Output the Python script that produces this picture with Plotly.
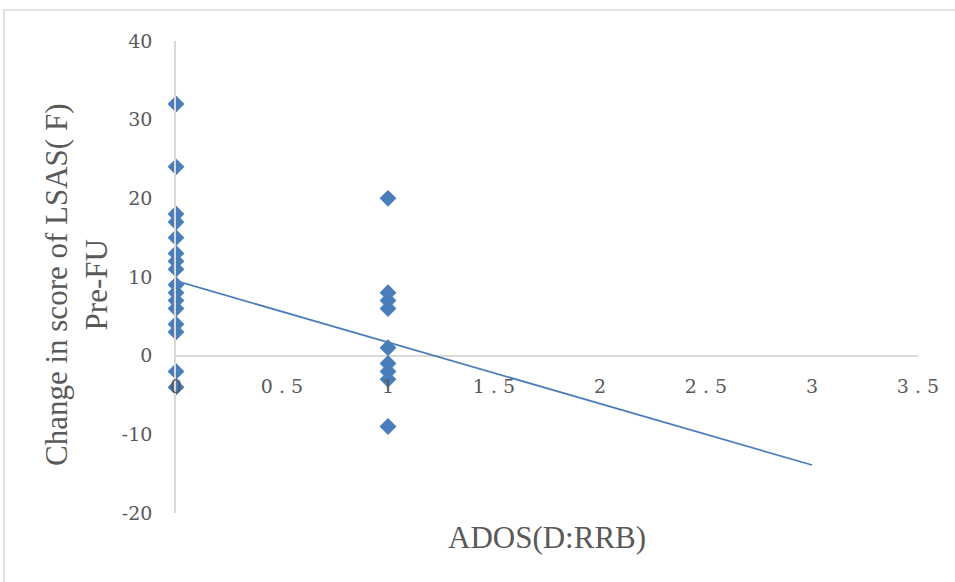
import plotly.graph_objects as go

# Data
ados_x0 = [0] * 16
lsas_x0 = [32, 24, 18, 17, 15, 13, 12, 11, 9, 8, 7, 6, 4, 3, -2, -4]
ados_x1 = [1] * 9
lsas_x1 = [20, 8, 7, 6, 1, -1, -2, -3, -9]

ados = ados_x0 + ados_x1
lsas = lsas_x0 + lsas_x1

# Linear trendline endpoints as drawn in the reference
trend_x = [0, 3]
trend_y = [9.5, -13.9]

x_tickvals = [0, 0.5, 1, 1.5, 2, 2.5, 3, 3.5]
x_ticktext = ["0", "0 . 5", "1", "1 . 5", "2", "2 . 5", "3", "3 . 5"]
y_tickvals = [-20, -10, 0, 10, 20, 30, 40]
y_ticktext = ["-20", "-10", "0", "10", "20", "30", "40"]

BLUE = "#4A7EBB"
TEXT = "#595959"
GRID = "#D9D9D9"
TICKFONT = "'DejaVu Serif', 'Liberation Serif', serif"
TITLEFONT = "'Liberation Serif', 'DejaVu Serif', serif"

fig = go.Figure()
fig.add_trace(go.Scatter(
    x=ados, y=lsas, mode="markers",
    marker=dict(symbol="diamond", size=13, color=BLUE, line=dict(width=0)),
    cliponaxis=False, showlegend=False,
))
fig.add_trace(go.Scatter(
    x=trend_x, y=trend_y, mode="lines",
    line=dict(color=BLUE, width=1.75),
    cliponaxis=False, showlegend=False,
))

fig.update_layout(
    width=955, height=582,
    margin=dict(l=176, r=37, t=41, b=69),
    paper_bgcolor="white", plot_bgcolor="white",
    font=dict(family=TICKFONT, color=TEXT, size=20),
    xaxis=dict(
        range=[0, 3.5], tickvals=x_tickvals, ticktext=x_ticktext,
        showgrid=False, zeroline=False, showline=False,
        anchor="free", position=1/3, ticks="", ticklabelstandoff=17,
        tickfont=dict(family=TICKFONT, color=TEXT, size=19),
    ),
    yaxis=dict(
        range=[-20, 40], tickvals=y_tickvals, ticktext=y_ticktext,
        showgrid=False, zeroline=True, zerolinecolor=GRID, zerolinewidth=1.5,
        showline=True, linecolor=GRID, linewidth=1.5,
        ticks="", ticklabelstandoff=18,
        tickfont=dict(family=TICKFONT, color=TEXT, size=19),
    ),
    shapes=[dict(
        type="rect", xref="paper", yref="paper",
        x0=(4 - 176) / 742, x1=2, y0=-2, y1=1 + (41 - 10) / 472,
        line=dict(color=GRID, width=1.5), fillcolor="rgba(0,0,0,0)",
        layer="below",
    )],
    annotations=[
        dict(text="Change in score of LSAS( F)<br>Pre-FU",
             xref="paper", yref="paper",
             x=(76 - 176) / 742, y=(513 - 285) / 472,
             xanchor="center", yanchor="middle", textangle=-90,
             showarrow=False, font=dict(family=TITLEFONT, color=TEXT, size=31)),
        dict(text="ADOS(D:RRB)", xref="paper", yref="paper",
             x=(547 - 176) / 742, y=(513 - 537) / 472,
             xanchor="center", yanchor="middle",
             showarrow=False, font=dict(family=TITLEFONT, color=TEXT, size=31)),
    ],
)

fig.write_html("out.html")
